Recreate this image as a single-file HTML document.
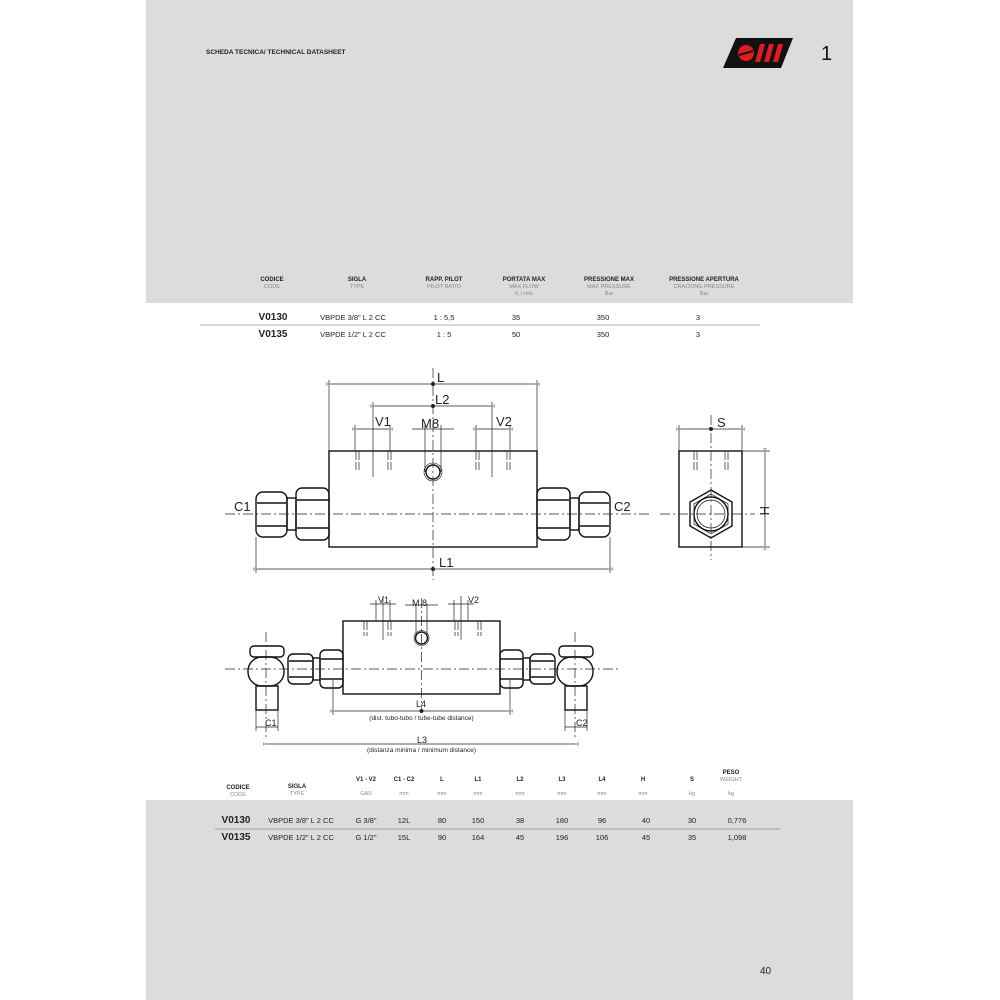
<!DOCTYPE html>
<html><head><meta charset="utf-8"><style>
html,body{margin:0;padding:0;background:#fff}
svg{display:block}
text{font-family:"Liberation Sans",sans-serif}
</style></head><body>
<svg width="1000" height="1000" viewBox="0 0 1000 1000" xmlns="http://www.w3.org/2000/svg">
<defs>
<marker id="a" viewBox="0 0 10 6" refX="0" refY="3" markerWidth="8" markerHeight="4" orient="auto-start-reverse"><path d="M10,0.5 L0,3 L10,5.5 Z" fill="#fff" stroke="#333" stroke-width="0.8"/></marker>
</defs>
<rect x="146" y="0" width="707" height="303" fill="#dcdcdc"/>
<rect x="146" y="800" width="707" height="200" fill="#dcdcdc"/>
<text x="206" y="54" font-size="6.5" font-weight="bold" fill="#222">SCHEDA TECNICA/ TECHNICAL DATASHEET</text>
<polygon points="736,38 793,38 781,68 723,68" fill="#111"/>
<circle cx="746" cy="53" r="8" fill="#e01b22"/>
<line x1="739" y1="55" x2="753" y2="51" stroke="#111" stroke-width="2"/>
<polygon points="760,44 765,44 760,62 755,62" fill="#e01b22"/>
<polygon points="769,44 774,44 769,62 764,62" fill="#e01b22"/>
<polygon points="778,44 783,44 778,62 773,62" fill="#e01b22"/>
<text x="821" y="60" font-size="20" fill="#111">1</text>

<g font-size="6" text-anchor="middle" fill="#222">
<g font-weight="bold">
<text x="272" y="281">CODICE</text><text x="357" y="281">SIGLA</text><text x="444" y="281">RAPP. PILOT</text><text x="524" y="281">PORTATA MAX</text><text x="609" y="281">PRESSIONE MAX</text><text x="704" y="281">PRESSIONE APERTURA</text>
</g>
<g fill="#888" font-size="5.5">
<text x="272" y="288">CODE</text><text x="357" y="288">TYPE</text><text x="444" y="288">PILOT RATIO</text><text x="524" y="288">MAX FLOW</text><text x="609" y="288">MAX PRESSURE</text><text x="704" y="288">CRACKING PRESSURE</text>
<text x="524" y="295">lt. / min</text><text x="609" y="295">Bar</text><text x="704" y="295">Bar</text>
</g>
<g font-size="7.5">
<text x="273" y="320" font-weight="bold" font-size="10">V0130</text><text x="353" y="320">VBPDE 3/8" L 2 CC</text><text x="444" y="320">1 : 5,5</text><text x="516" y="320">35</text><text x="603" y="320">350</text><text x="698" y="320">3</text>
<text x="273" y="337" font-weight="bold" font-size="10">V0135</text><text x="353" y="337">VBPDE 1/2" L 2 CC</text><text x="444" y="337">1 : 5</text><text x="516" y="337">50</text><text x="603" y="337">350</text><text x="698" y="337">3</text>
</g>
</g>
<line x1="200" y1="325" x2="760" y2="325" stroke="#999" stroke-width="0.8"/>

<g fill="none" stroke="#111" stroke-width="1.4">
<rect x="329" y="451" width="208" height="96"/>
<rect x="256" y="492" width="31" height="45" rx="7"/><line x1="257" y1="503" x2="286" y2="503"/><line x1="257" y1="526" x2="286" y2="526"/>
<rect x="287" y="498" width="9" height="32"/>
<rect x="296" y="488" width="33" height="52" rx="6"/><line x1="297" y1="500" x2="329" y2="500"/><line x1="297" y1="528" x2="329" y2="528"/>
<rect x="579" y="492" width="31" height="45" rx="7"/><line x1="580" y1="503" x2="609" y2="503"/><line x1="580" y1="526" x2="609" y2="526"/>
<rect x="570" y="498" width="9" height="32"/>
<rect x="537" y="488" width="33" height="52" rx="6"/><line x1="537" y1="500" x2="569" y2="500"/><line x1="537" y1="528" x2="569" y2="528"/>
<circle cx="433" cy="472" r="7"/><circle cx="433" cy="472" r="9" stroke-width="0.6"/>
<rect x="679" y="451" width="63" height="96"/>
<polygon points="711,490 732,502 732,526 711,538 690,526 690,502"/>
<polygon points="711,494 728,504 728,524 711,534 694,524 694,504" stroke-width="0.7"/>
<circle cx="711" cy="514" r="17"/><circle cx="711" cy="514" r="14" stroke-width="0.7"/>
<rect x="343" y="621" width="157" height="73"/>
<circle cx="421.5" cy="638" r="6"/><circle cx="421.5" cy="638" r="7.5" stroke-width="0.6"/>
<rect x="250" y="646" width="34" height="11" rx="4"/>
<rect x="248" y="657" width="36" height="29" rx="14"/>
<rect x="256" y="686" width="22" height="24"/>
<rect x="288" y="654" width="25" height="30" rx="5"/><line x1="289" y1="661" x2="312" y2="661"/><line x1="289" y1="677" x2="312" y2="677"/>
<rect x="313" y="658" width="7" height="22"/>
<rect x="320" y="650" width="23" height="38" rx="5"/><line x1="321" y1="659" x2="343" y2="659"/><line x1="321" y1="679" x2="343" y2="679"/>
<rect x="559" y="646" width="34" height="11" rx="4"/>
<rect x="557" y="657" width="36" height="29" rx="14"/>
<rect x="565" y="686" width="22" height="24"/>
<rect x="530" y="654" width="25" height="30" rx="5"/><line x1="531" y1="661" x2="554" y2="661"/><line x1="531" y1="677" x2="554" y2="677"/>
<rect x="523" y="658" width="7" height="22"/>
<rect x="500" y="650" width="23" height="38" rx="5"/><line x1="500" y1="659" x2="522" y2="659"/><line x1="500" y1="679" x2="522" y2="679"/>
</g>

<g stroke="#222" stroke-width="0.7" fill="none">
<line x1="225" y1="514" x2="650" y2="514" stroke-dasharray="10,3,2,3"/>
<line x1="433" y1="368" x2="433" y2="580" stroke-dasharray="10,3,2,3"/>
<line x1="660" y1="514" x2="755" y2="514" stroke-dasharray="10,3,2,3"/>
<line x1="711" y1="415" x2="711" y2="560" stroke-dasharray="10,3,2,3"/>
<line x1="225" y1="669" x2="620" y2="669" stroke-dasharray="10,3,2,3"/>
<line x1="421.5" y1="598" x2="421.5" y2="712" stroke-dasharray="10,3,2,3"/>
<line x1="266" y1="632" x2="266" y2="740" stroke-dasharray="10,3,2,3"/>
<line x1="575" y1="632" x2="575" y2="740" stroke-dasharray="10,3,2,3"/>
<line x1="329" y1="380" x2="329" y2="451"/><line x1="537" y1="380" x2="537" y2="451"/>
<line x1="373" y1="402" x2="373" y2="477"/><line x1="492" y1="402" x2="492" y2="477"/>
<line x1="355" y1="425" x2="355" y2="450"/><line x1="390" y1="425" x2="390" y2="450"/>
<line x1="425" y1="425" x2="425" y2="472"/><line x1="441" y1="425" x2="441" y2="472"/>
<line x1="476" y1="425" x2="476" y2="450"/><line x1="510" y1="425" x2="510" y2="450"/>
<line x1="256" y1="537" x2="256" y2="573"/><line x1="610" y1="537" x2="610" y2="573"/>
<line x1="679" y1="425" x2="679" y2="451"/><line x1="742" y1="425" x2="742" y2="451"/>
<line x1="742" y1="451" x2="770" y2="451"/><line x1="742" y1="547" x2="770" y2="547"/>
<g stroke-dasharray="9,2">
<line x1="356" y1="451" x2="356" y2="470"/><line x1="359" y1="451" x2="359" y2="470"/>
<line x1="388" y1="451" x2="388" y2="470"/><line x1="391" y1="451" x2="391" y2="470"/>
<line x1="476" y1="451" x2="476" y2="470"/><line x1="479" y1="451" x2="479" y2="470"/>
<line x1="507" y1="451" x2="507" y2="470"/><line x1="510" y1="451" x2="510" y2="470"/>
<line x1="694" y1="451" x2="694" y2="470"/><line x1="697" y1="451" x2="697" y2="470"/>
<line x1="725" y1="451" x2="725" y2="470"/><line x1="728" y1="451" x2="728" y2="470"/>
<line x1="364" y1="621" x2="364" y2="636"/><line x1="367" y1="621" x2="367" y2="636"/>
<line x1="388" y1="621" x2="388" y2="636"/><line x1="391" y1="621" x2="391" y2="636"/>
<line x1="455" y1="621" x2="455" y2="636"/><line x1="458" y1="621" x2="458" y2="636"/>
<line x1="478" y1="621" x2="478" y2="636"/><line x1="481" y1="621" x2="481" y2="636"/>
</g>
<line x1="376" y1="600" x2="376" y2="621"/><line x1="390" y1="600" x2="390" y2="621"/><line x1="383" y1="596" x2="383" y2="640"/>
<line x1="454" y1="600" x2="454" y2="621"/><line x1="468" y1="600" x2="468" y2="621"/><line x1="461" y1="596" x2="461" y2="640"/>
<line x1="416" y1="604" x2="416" y2="638"/><line x1="427" y1="604" x2="427" y2="638"/>
<line x1="333" y1="680" x2="333" y2="715"/><line x1="510" y1="680" x2="510" y2="715"/>
<line x1="256" y1="710" x2="256" y2="731"/><line x1="278" y1="710" x2="278" y2="731"/>
<line x1="565" y1="710" x2="565" y2="731"/><line x1="587" y1="710" x2="587" y2="731"/>
<g marker-start="url(#a)" marker-end="url(#a)">
<line x1="331" y1="384" x2="535" y2="384"/>
<line x1="375" y1="406" x2="490" y2="406"/>
<line x1="357" y1="429" x2="388" y2="429"/>
<line x1="478" y1="429" x2="508" y2="429"/>
<line x1="258" y1="569" x2="608" y2="569"/>
<line x1="681" y1="429" x2="740" y2="429"/>
<line x1="765" y1="453" x2="765" y2="545"/>
<line x1="335" y1="711" x2="508" y2="711"/>
<line x1="268" y1="744" x2="574" y2="744"/>
</g>
<line x1="412" y1="429" x2="454" y2="429"/>
<line x1="405" y1="605" x2="438" y2="605"/>
<line x1="370" y1="604" x2="396" y2="604"/><line x1="448" y1="604" x2="474" y2="604"/>
<line x1="256" y1="727" x2="278" y2="727"/><line x1="565" y1="727" x2="587" y2="727"/>
</g>
<g fill="#222">
<circle cx="433" cy="384" r="2"/><circle cx="433" cy="406" r="2"/><circle cx="433" cy="569" r="2"/><circle cx="711" cy="429" r="2"/><circle cx="421.5" cy="711" r="2"/>
</g>
<g font-size="13" fill="#222" font-family="Liberation Sans Narrow, Liberation Sans, sans-serif">
<text x="437" y="382">L</text><text x="435" y="404">L2</text>
<text x="375" y="426">V1</text><text x="421" y="428">M8</text><text x="496" y="426">V2</text>
<text x="234" y="511">C1</text><text x="614" y="511">C2</text>
<text x="439" y="567">L1</text><text x="717" y="427">S</text>
<text x="760" y="506" transform="rotate(90 760 506)">H</text>
</g>
<g font-size="9" fill="#222">
<text x="378" y="603">V1</text><text x="412" y="606">M 8</text><text x="468" y="603">V2</text>
<text x="416" y="707">L4</text><text x="265" y="726">C1</text><text x="576" y="726">C2</text>
<text x="417" y="743">L3</text>
</g>
<g font-size="6.5" fill="#222" text-anchor="middle">
<text x="421.5" y="720">(dist. tubo-tubo / tube-tube distance)</text>
<text x="421.5" y="752">(distanza minima / minimum distance)</text>
</g>

<g font-size="6" text-anchor="middle" fill="#222">
<g font-weight="bold">
<text x="238" y="789">CODICE</text><text x="297" y="788">SIGLA</text><text x="366" y="781">V1 - V2</text><text x="404" y="781">C1 - C2</text><text x="442" y="781">L</text><text x="478" y="781">L1</text><text x="520" y="781">L2</text><text x="562" y="781">L3</text><text x="602" y="781">L4</text><text x="643" y="781">H</text><text x="692" y="781">S</text><text x="731" y="774">PESO</text>
</g>
<g fill="#888" font-size="5.5">
<text x="238" y="796">CODE</text><text x="297" y="795">TYPE</text><text x="731" y="781">WEIGHT</text>
<text x="366" y="795">GAS</text><text x="404" y="795">mm</text><text x="442" y="795">mm</text><text x="478" y="795">mm</text><text x="520" y="795">mm</text><text x="562" y="795">mm</text><text x="602" y="795">mm</text><text x="643" y="795">mm</text><text x="692" y="795">kg</text><text x="731" y="795">kg</text>
</g>
<g font-size="7.5">
<text x="236" y="823" font-weight="bold" font-size="10">V0130</text><text x="301" y="823">VBPDE 3/8" L 2 CC</text><text x="366" y="823">G 3/8"</text><text x="404" y="823">12L</text><text x="442" y="823">80</text><text x="478" y="823">150</text><text x="520" y="823">38</text><text x="562" y="823">180</text><text x="602" y="823">96</text><text x="646" y="823">40</text><text x="692" y="823">30</text><text x="737" y="823">0,776</text>
<text x="236" y="840" font-weight="bold" font-size="10">V0135</text><text x="301" y="840">VBPDE 1/2" L 2 CC</text><text x="366" y="840">G 1/2"</text><text x="404" y="840">15L</text><text x="442" y="840">90</text><text x="478" y="840">164</text><text x="520" y="840">45</text><text x="562" y="840">196</text><text x="602" y="840">106</text><text x="646" y="840">45</text><text x="692" y="840">35</text><text x="737" y="840">1,098</text>
</g>
</g>
<line x1="215" y1="829" x2="780" y2="829" stroke="#888" stroke-width="0.8"/>
<text x="760" y="974" font-size="10" fill="#222">40</text>
</svg>
</body></html>
